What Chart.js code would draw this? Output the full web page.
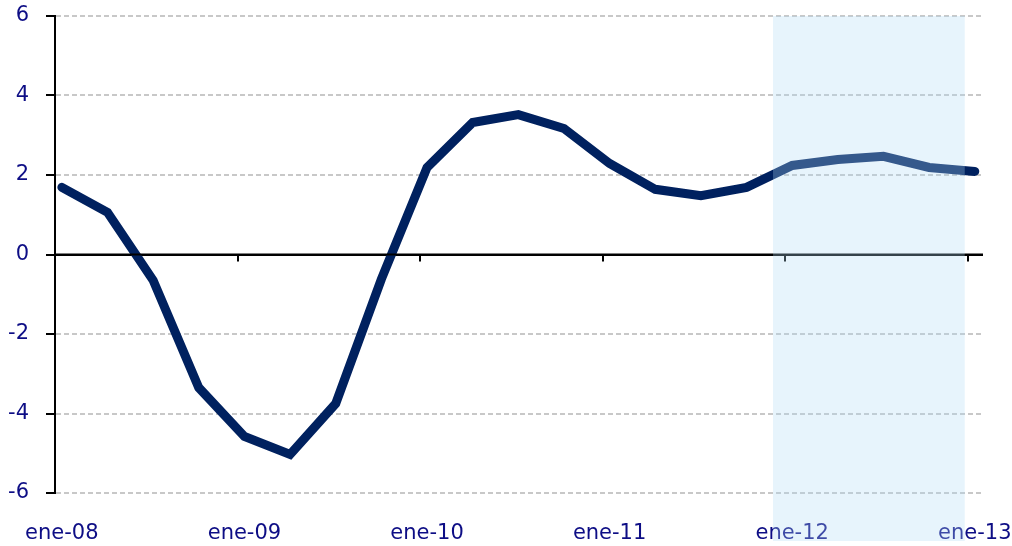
<!DOCTYPE html>
<html lang="es">
<head>
  <meta charset="UTF-8">
  <title>Serie trimestral</title>
  <script src="https://cdn.jsdelivr.net/npm/chart.js"></script>
  <style>
    body { margin: 0; background: #fff; }
    #wrap { width: 1012px; height: 546px; }
  </style>
</head>
<body>
  <div id="wrap">
    <canvas id="grafico" width="1012" height="546"></canvas>
  </div>
<script>
  // etiquetas anuales (una cada 4 trimestres)
  const yearLabels = ['ene-08', 'ene-09', 'ene-10', 'ene-11', 'ene-12', 'ene-13'];
  // valores trimestrales, ene-08 .. ene-13
  const values = [1.69, 1.06, -0.65, -3.35, -4.58, -5.03, -3.75, -0.62, 2.19, 3.32, 3.52,
                  3.17, 2.29, 1.64, 1.48, 1.69, 2.24, 2.39, 2.47, 2.19, 2.09];
  const yTicks = [-6, -4, -2, 0, 2, 4, 6];
  // tramo sombreado (en trimestres desde ene-08)
  const forecastBand = [15.73, 19.93];

  const offset = 0.15; // los puntos caen a mitad de mes
  const navy = '#0d0d85';
  const points = values.map((v, i) => ({ x: i + offset, y: v }));

  const zeroAxis = {
    id: 'zeroAxis',
    afterDatasetsDraw(chart) {
      const { ctx, scales: { x, y } } = chart;
      const y0 = y.getPixelForValue(0);
      ctx.save();
      ctx.strokeStyle = '#000';
      ctx.lineWidth = 2;
      ctx.beginPath();
      ctx.moveTo(x.left, y0);
      ctx.lineTo(x.right, y0);
      for (let k = 1; k < yearLabels.length; k++) {
        const px = Math.round(x.getPixelForValue(k * 4));
        ctx.moveTo(px, y0);
        ctx.lineTo(px, y0 + 7);
      }
      ctx.stroke();
      ctx.restore();
    }
  };

  const band = {
    id: 'band',
    afterDraw(chart) {
      const { ctx, scales: { x, y } } = chart;
      const x1 = x.getPixelForValue(forecastBand[0]);
      const x2 = x.getPixelForValue(forecastBand[1]);
      ctx.save();
      ctx.fillStyle = 'rgba(175, 220, 245, 0.3)';
      ctx.fillRect(x1, y.top, x2 - x1, chart.height - 5 - y.top);
      ctx.restore();
    }
  };

  const font = { family: 'DejaVu Sans', size: 21 };

  new Chart(document.getElementById('grafico'), {
    type: 'line',
    data: {
      datasets: [{
        data: points,
        borderColor: '#00215f',
        borderWidth: 9,
        borderCapStyle: 'round',
        borderJoinStyle: 'miter',
        pointRadius: 0,
        tension: 0,
        fill: false
      }]
    },
    options: {
      responsive: false,
      animation: false,
      layout: { padding: { top: 16, right: 29, left: 0, bottom: 0 } },
      plugins: { legend: { display: false }, tooltip: { enabled: false } },
      scales: {
        x: {
          type: 'linear',
          min: 0,
          max: 20.33,
          afterBuildTicks: (scale) => {
            scale.ticks = yearLabels.map((l, k) => ({ value: k * 4 + offset }));
          },
          afterFit: (scale) => {
            scale.height = 53;
            scale.paddingLeft = 0;
            scale.paddingRight = 0;
          },
          grid: { display: false, drawTicks: false },
          border: { display: false },
          ticks: {
            autoSkip: false,
            maxRotation: 0,
            padding: 28,
            color: navy,
            font: font,
            callback: (v, i) => yearLabels[i]
          }
        },
        y: {
          min: -6,
          max: 6,
          afterBuildTicks: (scale) => {
            scale.ticks = yTicks.map(v => ({ value: v }));
          },
          afterFit: (scale) => {
            scale.width = 55;
            scale.paddingTop = 0;
            scale.paddingBottom = 0;
          },
          grid: {
            color: (c) => c.tick && c.tick.value === 0 ? '#000' : '#c8c8c8',
            lineWidth: 2,
            tickColor: '#000',
            tickLength: 9,
            tickWidth: 2,
            tickBorderDash: []
          },
          border: {
            display: true,
            color: '#000',
            width: 2,
            dash: (c) => c.tick && c.tick.value !== 0 ? [5, 3] : []
          },
          ticks: {
            padding: 17,
            color: navy,
            font: font
          }
        }
      }
    },
    plugins: [zeroAxis, band]
  });
</script>
</body>
</html>
